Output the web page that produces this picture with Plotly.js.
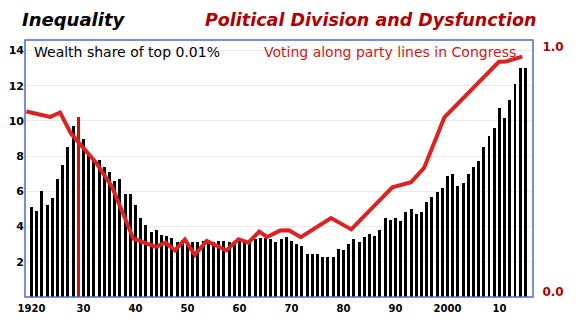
<!DOCTYPE html>
<html>
<head>
<meta charset="utf-8">
<script src="https://cdn.plot.ly/plotly-3.0.1.min.js"></script>
<style>html,body{margin:0;padding:0;background:#fff;}#chart{width:576px;height:323px;}</style>
</head>
<body>
<div id="chart"></div>
<script>
// Wealth share of top 0.01% (left axis), one bar per year
const barYears = [];
for (let y = 1920; y <= 2015; y++) barYears.push(y);
const wealthShare = [
  5.1, 4.9, 6.0, 5.2, 5.6, 6.7, 7.5, 8.5, 9.7, 10.2, 9.0, 8.2, 7.8, 7.8, 7.4, 7.1, 6.6, 6.7, 5.85, 5.85,
  5.2, 4.5, 4.1, 3.7, 3.8, 3.55, 3.45, 3.35, 3.15, 3.25, 3.15, 3.15, 3.15, 3.2, 3.1, 3.1, 3.2, 3.2, 3.1, 3.2,
  3.2, 3.1, 3.15, 3.3, 3.35, 3.35, 3.3, 3.1, 3.3, 3.4, 3.2, 3.0, 2.9, 2.45, 2.45, 2.45, 2.3, 2.3, 2.25, 2.7,
  2.65, 3.0, 3.3, 3.15, 3.4, 3.6, 3.45, 3.8, 4.5, 4.4, 4.5, 4.3, 4.85, 5.0, 4.7, 4.85, 5.4, 5.7, 5.95, 6.2,
  6.9, 7.0, 6.3, 6.5, 7.0, 7.4, 7.7, 8.5, 9.15, 9.6, 10.75, 10.15, 11.2, 12.1, 13.0, 13.0
];
const highlightYear = 1929;

// Voting along party lines in Congress (right axis, 0..1)
const voteYears = [1919, 1923.6, 1925.5, 1927.6, 1932.5, 1935.5, 1939.6, 1943.9, 1945.8, 1947.6, 1949.5,
  1951.4, 1953.7, 1957.5, 1959.8, 1961.7, 1963.8, 1965.3, 1967.8, 1969.5, 1971.8, 1977.6, 1981.5,
  1989.4, 1993, 1995.5, 1999.4, 2009.9, 2011.2, 2014.4];
const partyVoting = [0.735, 0.713, 0.731, 0.645, 0.524, 0.427, 0.216, 0.183, 0.2, 0.168, 0.213,
  0.15, 0.207, 0.168, 0.214, 0.2, 0.245, 0.223, 0.249, 0.25, 0.222, 0.3, 0.254,
  0.426, 0.447, 0.505, 0.711, 0.938, 0.939, 0.959];

const xTickVals = [1920, 1930, 1940, 1950, 1960, 1970, 1980, 1990, 2000, 2010];
const xTickText = ['1920', '30', '40', '50', '60', '70', '80', '90', '2000', '10'];
const yTickVals = [2, 4, 6, 8, 10, 12, 14];
const y2TickVals = [0, 1];
const y2TickText = ['0.0', '1.0'];

const barColors = barYears.map(y => y === highlightYear ? '#cc1111' : '#000000');

const traces = [
  {
    type: 'bar', x: barYears, y: wealthShare, width: 0.55,
    marker: {color: barColors, line: {width: 0}},
    hoverinfo: 'skip', showlegend: false
  },
  {
    type: 'scatter', mode: 'lines', x: voteYears, y: partyVoting, yaxis: 'y2',
    line: {color: '#dd2222', width: 4, shape: 'linear'},
    hoverinfo: 'skip', showlegend: false
  }
];

const layout = {
  width: 576, height: 323,
  margin: {l: 25, r: 43, t: 40, b: 26, pad: 0},
  paper_bgcolor: '#ffffff', plot_bgcolor: '#ffffff',
  bargap: 0,
  xaxis: {
    range: [1918.75, 2016.45], tickvals: xTickVals, ticktext: xTickText,
    showgrid: false, zeroline: false, showline: false,
    ticks: 'outside', ticklen: 2, tickcolor: 'rgba(0,0,0,0)',
    tickfont: {family: 'DejaVu Sans', size: 10, color: '#000', weight: 'bold'}
  },
  yaxis: {
    range: [0, 14.6], tickvals: yTickVals,
    showgrid: true, gridcolor: '#ebebeb', gridwidth: 1, zeroline: false, showline: false,
    ticks: '', 
    tickfont: {family: 'DejaVu Sans', size: 11, color: '#000', weight: 'bold'}
  },
  yaxis2: {
    overlaying: 'y', side: 'right', range: [-0.022, 1.027],
    tickvals: y2TickVals, ticktext: y2TickText,
    showgrid: false, zeroline: false, showline: false,
    ticks: 'outside', ticklen: 6, tickcolor: 'rgba(0,0,0,0)',
    tickfont: {family: 'DejaVu Sans', size: 12, color: '#b00000', weight: 'bold'}
  },
  shapes: [
    {type: 'rect', xref: 'paper', yref: 'paper', x0: 0, x1: 1, y0: 0, y1: 1,
     line: {color: '#4a6bd8', width: 1.5}, fillcolor: 'rgba(0,0,0,0)', layer: 'above'}
  ],
  annotations: [
    {text: 'Inequality', xref: 'paper', yref: 'paper', x: -0.0098, y: 1.078,
     xanchor: 'left', yanchor: 'middle', showarrow: false,
     font: {family: 'DejaVu Sans', size: 18, color: '#000', weight: 'bold', style: 'italic'}},
    {text: 'Political Division and Dysfunction', xref: 'paper', yref: 'paper', x: 1.0098, y: 1.078,
     xanchor: 'right', yanchor: 'middle', showarrow: false,
     font: {family: 'DejaVu Sans', size: 17.5, color: '#b00000', weight: 'bold', style: 'italic'}},
    {text: 'Wealth share of top 0.01%', xref: 'paper', yref: 'paper', x: 0.0138, y: 0.953,
     xanchor: 'left', yanchor: 'middle', showarrow: false,
     font: {family: 'DejaVu Sans', size: 14, color: '#000'}},
    {text: 'Voting along party lines in Congress', xref: 'paper', yref: 'paper', x: 0.4665, y: 0.953,
     xanchor: 'left', yanchor: 'middle', showarrow: false,
     font: {family: 'DejaVu Sans', size: 14, color: '#d01818'}}
  ]
};

Plotly.newPlot('chart', traces, layout, {staticPlot: true, displayModeBar: false});
</script>
</body>
</html>
